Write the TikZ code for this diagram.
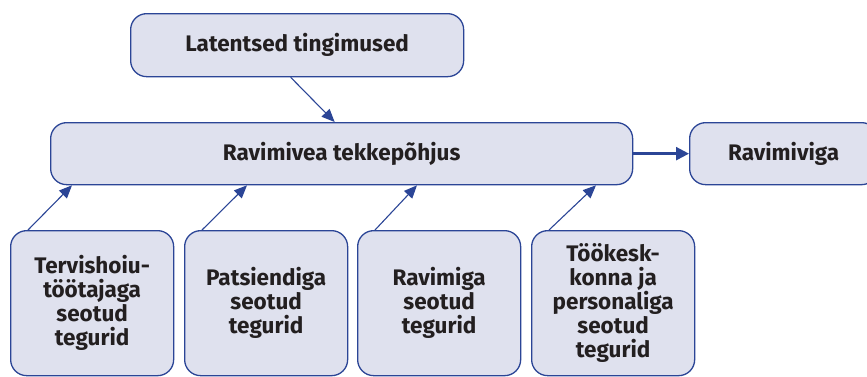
\documentclass[tikz,border=0pt]{standalone}
\usepackage{fontspec}
\setmainfont{Fira Sans}
\usetikzlibrary{calc,arrows.meta}
\definecolor{boxfill}{HTML}{DFE1EE}
\definecolor{boxdraw}{HTML}{2B4596}
\definecolor{txt}{HTML}{231F20}
\tikzset{
  box/.style={draw=boxdraw, fill=boxfill, line width=1.3pt, rounded corners=16pt,
    anchor=north west, inner sep=0pt, text=txt, font=\bfseries\fontsize{22.5}{24}\selectfont,
    align=center},
  arr/.style={draw=boxdraw, line width=1.1pt, -{Triangle[length=13pt,width=11pt]}},
  thickarr/.style={draw=boxdraw, line width=2.4pt, -{Triangle[length=13pt,width=13pt]}}
}
\begin{document}
\begin{tikzpicture}[x=1pt,y=-1pt]
\useasboundingbox (0,0) rectangle (867,376);
\clip (0,0) rectangle (867,376);
\node[box, minimum width=333pt, minimum height=63pt] (top) at (130,13) {Latentsed tingimused};
\node[box, minimum width=582pt, minimum height=62pt] (main) at (50,122) {Ravimivea tekkepõhjus};
\node[box, minimum width=188pt, minimum height=62pt] (res) at (689,122) {Ravimiviga};
\node[box, minimum width=163pt, minimum height=145pt] (b1) at (10,230) {Tervishoiu-\\töötajaga\\seotud\\tegurid};
\node[box, minimum width=163pt, minimum height=145pt] (b2) at (184,230) {Patsiendiga\\seotud\\tegurid};
\node[box, minimum width=163pt, minimum height=145pt] (b3) at (357,230) {Ravimiga\\seotud\\tegurid};
\node[box, minimum width=163pt, minimum height=145pt] (b4) at (531,230) {Töökesk-\\konna ja\\personaliga\\seotud\\tegurid};
\draw[arr] ($(top.south)+(-6.5,0)$) -- ($(main.north)+(-7,0)$);
\draw[thickarr] (main.east) -- (res.west);
\draw[arr] ($(b1.north west)+(18,0)$) -- ($(main.south west)+(22,0)$);
\draw[arr] ($(b2.north west)+(18,0)$) -- ($(main.south west)+(197,0)$);
\draw[arr] ($(b3.north west)+(18,0)$) -- ($(main.south west)+(367,0)$);
\draw[arr] ($(b4.north west)+(18,0)$) -- ($(main.south west)+(546,0)$);
\end{tikzpicture}
\end{document}
